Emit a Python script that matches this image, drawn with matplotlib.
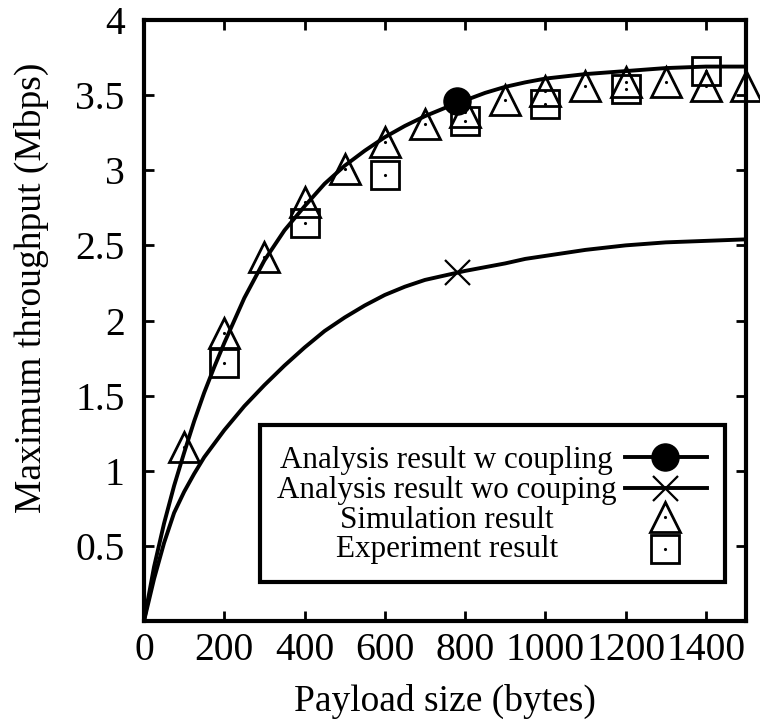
import matplotlib
matplotlib.use('Agg')
import matplotlib.pyplot as plt
from matplotlib.patches import Rectangle
from matplotlib.lines import Line2D

plt.rcParams['font.family'] = ['Liberation Serif', 'DejaVu Serif']

# analysis curves
payload_curve = [0, 25, 50, 75, 100, 125, 150, 175, 200, 250, 300, 350, 400, 450, 500,
                 550, 600, 650, 700, 750, 800, 850, 900, 950, 1000, 1100, 1200, 1300,
                 1400, 1500]
thr_coupling = [0, 0.36, 0.65, 0.90, 1.12, 1.33, 1.52, 1.69, 1.85, 2.15, 2.40, 2.60,
                2.76, 2.91, 3.03, 3.13, 3.22, 3.295, 3.36, 3.415, 3.465, 3.515, 3.555,
                3.585, 3.61, 3.64, 3.66, 3.68, 3.69, 3.69]
thr_no_coupling = [0, 0.28, 0.52, 0.72, 0.86, 0.98, 1.09, 1.18, 1.27, 1.43, 1.57, 1.70,
                   1.82, 1.93, 2.02, 2.10, 2.17, 2.225, 2.27, 2.30, 2.33, 2.355, 2.38,
                   2.41, 2.43, 2.47, 2.50, 2.52, 2.53, 2.54]

# single marker point on each analysis curve
mark_x = 780
mark_coupling = 3.46
mark_no_coupling = 2.32

# simulation
sim_x = [100, 200, 300, 400, 500, 600, 700, 800, 900, 1000, 1100, 1200, 1300, 1400, 1500]
sim_y = [1.16, 1.92, 2.42, 2.79, 3.01, 3.19, 3.31, 3.39, 3.47, 3.53, 3.56, 3.59, 3.59, 3.56, 3.56]

# experiment
exp_x = [200, 400, 600, 800, 1000, 1200, 1400]
exp_y = [1.72, 2.65, 2.97, 3.33, 3.44, 3.54, 3.66]

labels = ['Analysis result w coupling', 'Analysis result wo couping',
          'Simulation result', 'Experiment result']

fig = plt.figure(figsize=(7.6, 7.27), dpi=100)
ax = fig.add_axes([144 / 760, 1 - 621 / 727, 602 / 760, 601 / 727])

ax.plot(payload_curve, thr_coupling, color='black', lw=2.8, zorder=3)
ax.plot(payload_curve, thr_no_coupling, color='black', lw=2.8, zorder=3)
ax.plot([mark_x], [mark_coupling], 'o', color='black', ms=19.5, zorder=4)
ax.plot([mark_x], [mark_no_coupling], 'x', color='black', ms=18, mew=1.6, zorder=4)

ax.plot(sim_x, sim_y, '^', ms=21, mfc='none', mec='black', mew=2, zorder=5, clip_on=False)
ax.plot(sim_x, sim_y, '.', color='black', ms=2.5, zorder=5, clip_on=False)
ax.plot(exp_x, exp_y, 's', ms=20, mfc='none', mec='black', mew=2, zorder=5)
ax.plot(exp_x, exp_y, '.', color='black', ms=2.5, zorder=5)

ax.set_xlim(0, 1500)
ax.set_ylim(0, 4)
ax.set_xticks([0, 200, 400, 600, 800, 1000, 1200, 1400])
ax.set_yticks([0.5, 1, 1.5, 2, 2.5, 3, 3.5, 4])
ax.set_yticklabels(['0.5', '1', '1.5', '2', '2.5', '3', '3.5', '4'])
ax.tick_params(direction='in', length=7, width=2, top=True, right=True, labelsize=28.5)
ax.tick_params(axis='x', pad=8)
ax.tick_params(axis='y', pad=14)
for s in ax.spines.values():
    s.set_linewidth(3)

ax.set_xlabel('Payload size (bytes)', fontsize=27)
ax.set_ylabel('Maximum throughput (Mbps)', fontsize=27)
ax.xaxis.set_label_coords(0.5, -0.104)
ax.yaxis.set_label_coords(-0.157, 0.554)

# legend box drawn by hand so the labels can be centred like the original
ax.add_patch(Rectangle((0.193, 0.065), 0.772, 0.261, transform=ax.transAxes,
                       fill=False, lw=3, ec='black', zorder=6))
rows = [0.273, 0.221, 0.173, 0.120]
baselines = [0.2546, 0.2047, 0.1547, 0.1065]
for lab, by in zip(labels, baselines):
    ax.text(0.503, by, lab, transform=ax.transAxes, ha='center', va='baseline',
            fontsize=22.4, zorder=7)
ax.add_line(Line2D([0.799, 0.935], [rows[0]] * 2, transform=ax.transAxes, color='black', lw=2.8))
ax.add_line(Line2D([0.799, 0.935], [rows[1]] * 2, transform=ax.transAxes, color='black', lw=2.8))
ax.add_line(Line2D([0.865], [rows[0]], transform=ax.transAxes, marker='o', color='black', ms=19.5))
ax.add_line(Line2D([0.865], [rows[1]], transform=ax.transAxes, marker='x', color='black', ms=18, mew=1.6))
ax.add_line(Line2D([0.865], [rows[2]], transform=ax.transAxes, marker='^', ms=21, mfc='none', mec='black', mew=2))
ax.add_line(Line2D([0.865], [rows[3]], transform=ax.transAxes, marker='s', ms=20, mfc='none', mec='black', mew=2))
ax.add_line(Line2D([0.865, 0.865], [rows[2], rows[3]], transform=ax.transAxes, ls='none', marker='.', color='black', ms=2.5))

fig.savefig('out.png', dpi=100)
